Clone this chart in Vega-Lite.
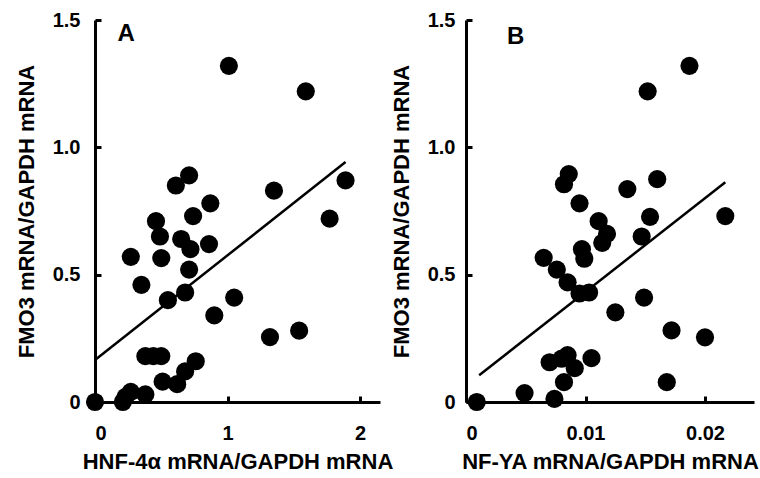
{
  "$schema": "https://vega.github.io/schema/vega-lite/v6.json",
  "background": "white",
  "padding": {"left": 15, "top": 10, "right": 0, "bottom": 0},
  "bounds": "flush",
  "spacing": 86,
  "config": {
    "view": {"stroke": null},
    "font": "Liberation Sans",
    "axis": {
      "domainColor": "black", "domainWidth": 3, "tickColor": "black", "tickWidth": 3, "tickSize": -6,
      "labelFont": "Liberation Sans", "labelFontSize": 20, "labelFontWeight": "bold", "labelColor": "black",
      "titleFont": "Liberation Sans", "titleFontSize": 22, "titleFontWeight": "bold", "titleColor": "black",
      "grid": false
    },
    "axisY": {"labelPadding": 21, "titlePadding": 14},
    "axisX": {"labelPadding": 27, "titlePadding": 8}
  },
  "datasets": {
    "a": [
      {"hnf": 1.01, "fmo3": 1.32}, {"hnf": 1.59, "fmo3": 1.22}, {"hnf": 1.89, "fmo3": 0.87},
      {"hnf": 1.77, "fmo3": 0.72}, {"hnf": 1.35, "fmo3": 0.83}, {"hnf": 0.71, "fmo3": 0.89},
      {"hnf": 0.61, "fmo3": 0.85}, {"hnf": 0.87, "fmo3": 0.78}, {"hnf": 0.74, "fmo3": 0.73},
      {"hnf": 0.46, "fmo3": 0.71}, {"hnf": 0.49, "fmo3": 0.65}, {"hnf": 0.65, "fmo3": 0.64},
      {"hnf": 0.72, "fmo3": 0.60}, {"hnf": 0.86, "fmo3": 0.62}, {"hnf": 0.27, "fmo3": 0.57},
      {"hnf": 0.50, "fmo3": 0.565}, {"hnf": 0.71, "fmo3": 0.52}, {"hnf": 0.35, "fmo3": 0.46},
      {"hnf": 0.55, "fmo3": 0.40}, {"hnf": 0.68, "fmo3": 0.43}, {"hnf": 1.05, "fmo3": 0.41},
      {"hnf": 0.90, "fmo3": 0.34}, {"hnf": 1.54, "fmo3": 0.28}, {"hnf": 1.32, "fmo3": 0.255},
      {"hnf": 0.38, "fmo3": 0.18}, {"hnf": 0.50, "fmo3": 0.18}, {"hnf": 0.44, "fmo3": 0.18},
      {"hnf": 0.76, "fmo3": 0.16}, {"hnf": 0.68, "fmo3": 0.12}, {"hnf": 0.51, "fmo3": 0.08},
      {"hnf": 0.62, "fmo3": 0.07}, {"hnf": 0.27, "fmo3": 0.04}, {"hnf": 0.23, "fmo3": 0.02},
      {"hnf": 0.38, "fmo3": 0.03}, {"hnf": 0.21, "fmo3": 0.0}, {"hnf": 0.0, "fmo3": 0.0}
    ],
    "fitA": [{"hnf": 0.0, "fmo3": 0.165}, {"hnf": 1.89, "fmo3": 0.942}],
    "b": [
      {"nfya": 0.0187, "fmo3": 1.32}, {"nfya": 0.0152, "fmo3": 1.22}, {"nfya": 0.0160, "fmo3": 0.875},
      {"nfya": 0.0135, "fmo3": 0.836}, {"nfya": 0.0086, "fmo3": 0.895}, {"nfya": 0.0082, "fmo3": 0.855},
      {"nfya": 0.0095, "fmo3": 0.78}, {"nfya": 0.0111, "fmo3": 0.71}, {"nfya": 0.0154, "fmo3": 0.727},
      {"nfya": 0.0217, "fmo3": 0.73}, {"nfya": 0.0118, "fmo3": 0.66}, {"nfya": 0.0147, "fmo3": 0.65},
      {"nfya": 0.0114, "fmo3": 0.625}, {"nfya": 0.0097, "fmo3": 0.60}, {"nfya": 0.0099, "fmo3": 0.5625},
      {"nfya": 0.0065, "fmo3": 0.566}, {"nfya": 0.0076, "fmo3": 0.52}, {"nfya": 0.0085, "fmo3": 0.47},
      {"nfya": 0.0095, "fmo3": 0.426}, {"nfya": 0.0103, "fmo3": 0.43}, {"nfya": 0.0125, "fmo3": 0.352},
      {"nfya": 0.0149, "fmo3": 0.41}, {"nfya": 0.0172, "fmo3": 0.281}, {"nfya": 0.0200, "fmo3": 0.254},
      {"nfya": 0.0168, "fmo3": 0.078}, {"nfya": 0.0070, "fmo3": 0.156}, {"nfya": 0.0085, "fmo3": 0.184},
      {"nfya": 0.0105, "fmo3": 0.172}, {"nfya": 0.0091, "fmo3": 0.133}, {"nfya": 0.0082, "fmo3": 0.078},
      {"nfya": 0.0074, "fmo3": 0.012}, {"nfya": 0.0049, "fmo3": 0.035}, {"nfya": 0.0009, "fmo3": 0.0},
      {"nfya": 0.0080, "fmo3": 0.17}
    ],
    "fitB": [{"nfya": 0.0011, "fmo3": 0.105}, {"nfya": 0.0217, "fmo3": 0.863}]
  },
  "hconcat": [
    {
      "width": 285, "height": 382,
      "layer": [
        {
          "data": {"name": "a"},
          "mark": {"type": "circle", "size": 330, "color": "black", "opacity": 1},
          "encoding": {
            "x": {"field": "hnf", "type": "quantitative", "scale": {"domain": [0, 2.15], "nice": false},
                  "axis": {"values": [0, 1, 2], "format": "d", "title": "HNF-4α mRNA/GAPDH mRNA"}},
            "y": {"field": "fmo3", "type": "quantitative", "scale": {"domain": [0, 1.5], "nice": false},
                  "axis": {"values": [0, 0.5, 1, 1.5], "labelExpr": "datum.value == 0 ? '0' : format(datum.value, '.1f')", "title": "FMO3 mRNA/GAPDH mRNA"}}
          }
        },
        {
          "data": {"name": "fitA"},
          "mark": {"type": "line", "color": "black", "strokeWidth": 2.5},
          "encoding": {
            "x": {"field": "hnf", "type": "quantitative"},
            "y": {"field": "fmo3", "type": "quantitative"}
          }
        },
        {
          "data": {"values": [{"label": "A"}]},
          "mark": {"type": "text", "font": "Liberation Sans", "fontSize": 24, "fontWeight": "bold", "align": "left", "baseline": "alphabetic", "color": "black"},
          "encoding": {
            "x": {"datum": 0.17, "type": "quantitative"},
            "y": {"datum": 1.417, "type": "quantitative"},
            "text": {"field": "label"}
          }
        }
      ]
    },
    {
      "width": 288, "height": 382,
      "layer": [
        {
          "data": {"name": "b"},
          "mark": {"type": "circle", "size": 330, "color": "black", "opacity": 1},
          "encoding": {
            "x": {"field": "nfya", "type": "quantitative", "scale": {"domain": [0, 0.0241], "nice": false},
                  "axis": {"values": [0, 0.01, 0.02], "labelExpr": "datum.value == 0 ? '0' : format(datum.value, '.2f')", "title": "NF-YA mRNA/GAPDH mRNA"}},
            "y": {"field": "fmo3", "type": "quantitative", "scale": {"domain": [0, 1.5], "nice": false},
                  "axis": {"values": [0, 0.5, 1, 1.5], "labelExpr": "datum.value == 0 ? '0' : format(datum.value, '.1f')", "title": "FMO3 mRNA/GAPDH mRNA", "labelPadding": 17}}
          }
        },
        {
          "data": {"name": "fitB"},
          "mark": {"type": "line", "color": "black", "strokeWidth": 2.5},
          "encoding": {
            "x": {"field": "nfya", "type": "quantitative"},
            "y": {"field": "fmo3", "type": "quantitative"}
          }
        },
        {
          "data": {"values": [{"label": "B"}]},
          "mark": {"type": "text", "font": "Liberation Sans", "fontSize": 24, "fontWeight": "bold", "align": "left", "baseline": "alphabetic", "color": "black"},
          "encoding": {
            "x": {"datum": 0.00344, "type": "quantitative"},
            "y": {"datum": 1.406, "type": "quantitative"},
            "text": {"field": "label"}
          }
        }
      ]
    }
  ]
}
